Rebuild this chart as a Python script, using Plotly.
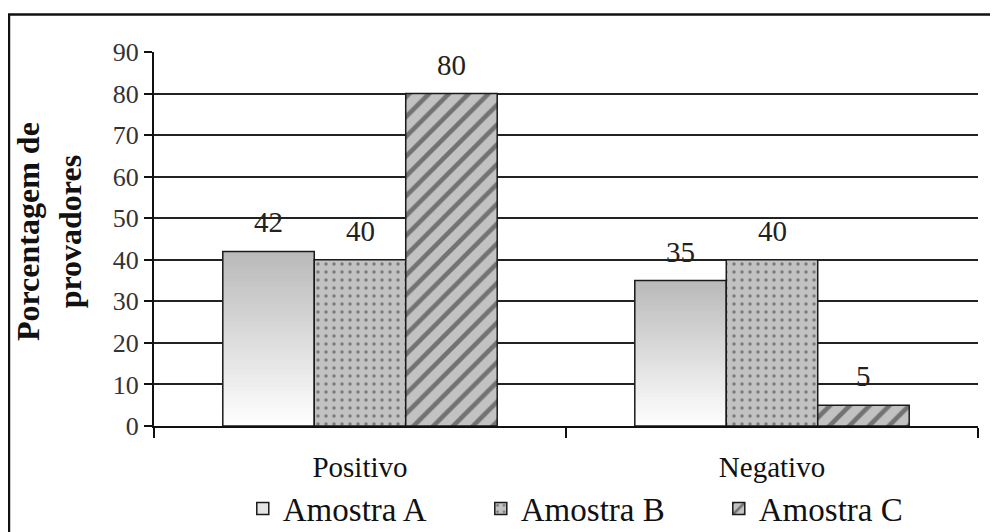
import plotly.graph_objects as go

categories = ["Positivo", "Negativo"]
series_names = ["Amostra A", "Amostra B", "Amostra C"]
amostra_a = [42, 35]
amostra_b = [40, 40]
amostra_c = [80, 5]
y_ticks = [0, 10, 20, 30, 40, 50, 60, 70, 80, 90]

FONT = "Liberation Serif, Times New Roman, serif"
W = 0.222
offsets = [-1.5 * W, -0.5 * W, 0.5 * W]

fig = go.Figure()

# gradient for Amostra A: overlapping slices of each bar (gray top -> white bottom)
N = 40
seg_x, seg_base, seg_h, seg_col = [], [], [], []
for ci, v in enumerate(amostra_a):
    for i in range(N):
        t = i / N  # 0 bottom, 1 top
        g = int(round(254 - (254 - 184) * t))
        seg_x.append(categories[ci])
        seg_base.append(v * i / N)
        seg_h.append(v - v * i / N)
        seg_col.append(f"rgb({g},{g},{g})")
fig.add_trace(go.Bar(x=seg_x, y=seg_h, base=seg_base, width=W, offset=offsets[0],
                     marker=dict(color=seg_col, line=dict(width=0)),
                     showlegend=False, hoverinfo="skip"))

line = dict(color="#1a1a1a", width=1.5)
fig.add_trace(go.Bar(x=categories, y=amostra_a, name=series_names[0], width=W, offset=offsets[0],
                     marker=dict(color="rgba(0,0,0,0)", line=line), showlegend=False))
fig.add_trace(go.Bar(x=[None], y=[None], name=series_names[0],
                     marker=dict(color="#e4e4e4", line=line)))
fig.add_trace(go.Bar(x=categories, y=amostra_b, name=series_names[1], width=W, offset=offsets[1],
                     marker=dict(color="#c2c2c2", line=line,
                                 pattern=dict(shape=".", fgcolor="#333", bgcolor="#c2c2c2",
                                              size=8, solidity=0.14))))
fig.add_trace(go.Bar(x=categories, y=amostra_c, name=series_names[2], width=W, offset=offsets[2],
                     marker=dict(color="#c2c2c2", line=line,
                                 pattern=dict(shape="/", fgcolor="#222", bgcolor="#c2c2c2",
                                              size=14, solidity=0.33))))

# value labels
for vals, off in zip([amostra_a, amostra_b, amostra_c], offsets):
    for ci, v in enumerate(vals):
        fig.add_annotation(x=ci + off + W / 2, y=v, xref="x", yref="y", text=str(v),
                           showarrow=False, yshift=29, yanchor="middle",
                           font=dict(family=FONT, size=29, color="#222"))

# y axis title
fig.add_annotation(xref="paper", yref="paper", x=-0.128, y=0.52, xanchor="center", yanchor="middle",
                   text="<b>Porcentagem de<br>provadores</b>", textangle=-90, showarrow=False,
                   font=dict(family=FONT, size=32, color="#111"))

# outer frame
fig.add_shape(type="rect", xref="paper", yref="paper", x0=-0.176, x1=1.2, y0=-0.5, y1=1.1,
              line=dict(color="#111", width=2.5), fillcolor="rgba(0,0,0,0)", layer="below")

fig.update_layout(
    width=982, height=524,
    margin=dict(l=146, r=12, t=44, b=106, autoexpand=False),
    paper_bgcolor="white", plot_bgcolor="white",
    barmode="overlay",
    font=dict(family=FONT, color="#111"),
    legend=dict(orientation="h", x=0.541, xanchor="center", y=-0.221, yanchor="middle",
                font=dict(family=FONT, size=33, color="#111"), entrywidth=193,
                itemwidth=30, bgcolor="rgba(0,0,0,0)"),
    xaxis=dict(type="category", categoryorder="array", categoryarray=categories,
               range=[-0.5, 1.5], showline=True, linecolor="#111", linewidth=2,
               ticks="outside", tickson="boundaries", ticklen=10, tickwidth=1.5, tickcolor="#111",
               ticklabelstandoff=14,
               showgrid=False, tickfont=dict(family=FONT, size=29, color="#111")),
    yaxis=dict(range=[0, 90], tickvals=y_ticks, showline=True, linecolor="#111", linewidth=2,
               ticks="outside", ticklen=8, tickwidth=1.5, tickcolor="#111",
               showgrid=True, gridcolor="#222", gridwidth=1.5, zeroline=False,
               tickfont=dict(family=FONT, size=26, color="#333")),
)

fig.write_html("out.html")
